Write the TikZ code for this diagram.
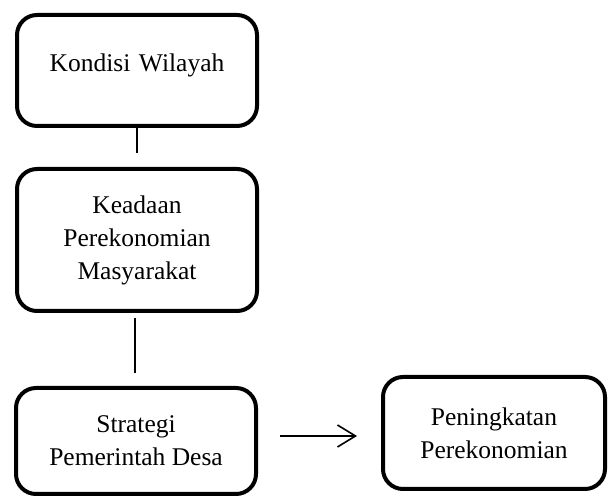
\documentclass[tikz,border=0pt]{standalone}
\usepackage{fontspec}
\setmainfont{Liberation Serif}
\usetikzlibrary{arrows.meta}
\tikzset{
  box/.style={draw, line width=4pt, rounded corners=20pt, outer sep=0pt, inner sep=0pt, align=center, font=\fontsize{25.5}{33}\selectfont},
  link/.style={line width=1.6pt},
  arr/.style={line width=1.6pt, -{Straight Barb[length=18pt,width=22pt,line width=1.6pt]}}
}
\begin{document}
\begin{tikzpicture}[x=1pt,y=1pt]
\useasboundingbox (0,0) rectangle (608,497);
\node[box, anchor=north, text width=240pt, text height=57pt, text depth=54pt] (b1) at (137,482) {Kondisi Wilayah};
\node[box, minimum width=240pt, minimum height=142pt] (b2) at (137,257) {Keadaan\\Perekonomian\\Masyarakat};
\node[box, minimum width=240pt, minimum height=106pt] (b3) at (136,56) {Strategi\\Pemerintah Desa};
\node[box, minimum width=222pt, minimum height=112pt] (b4) at (494,64) {Peningkatan\\Perekonomian};
\draw[link, shorten >=16pt] (b1.south) -- (b2.north);
\draw[link, shorten <=7pt, shorten >=15pt] ([xshift=-2pt]b2.south) -- ([xshift=-1pt]b3.north);
\path ([yshift=5pt]b3.east) coordinate (as);
\draw[arr, shorten <=24pt, shorten >=26pt] (as) -- (as -| b4.west);
\end{tikzpicture}
\end{document}
